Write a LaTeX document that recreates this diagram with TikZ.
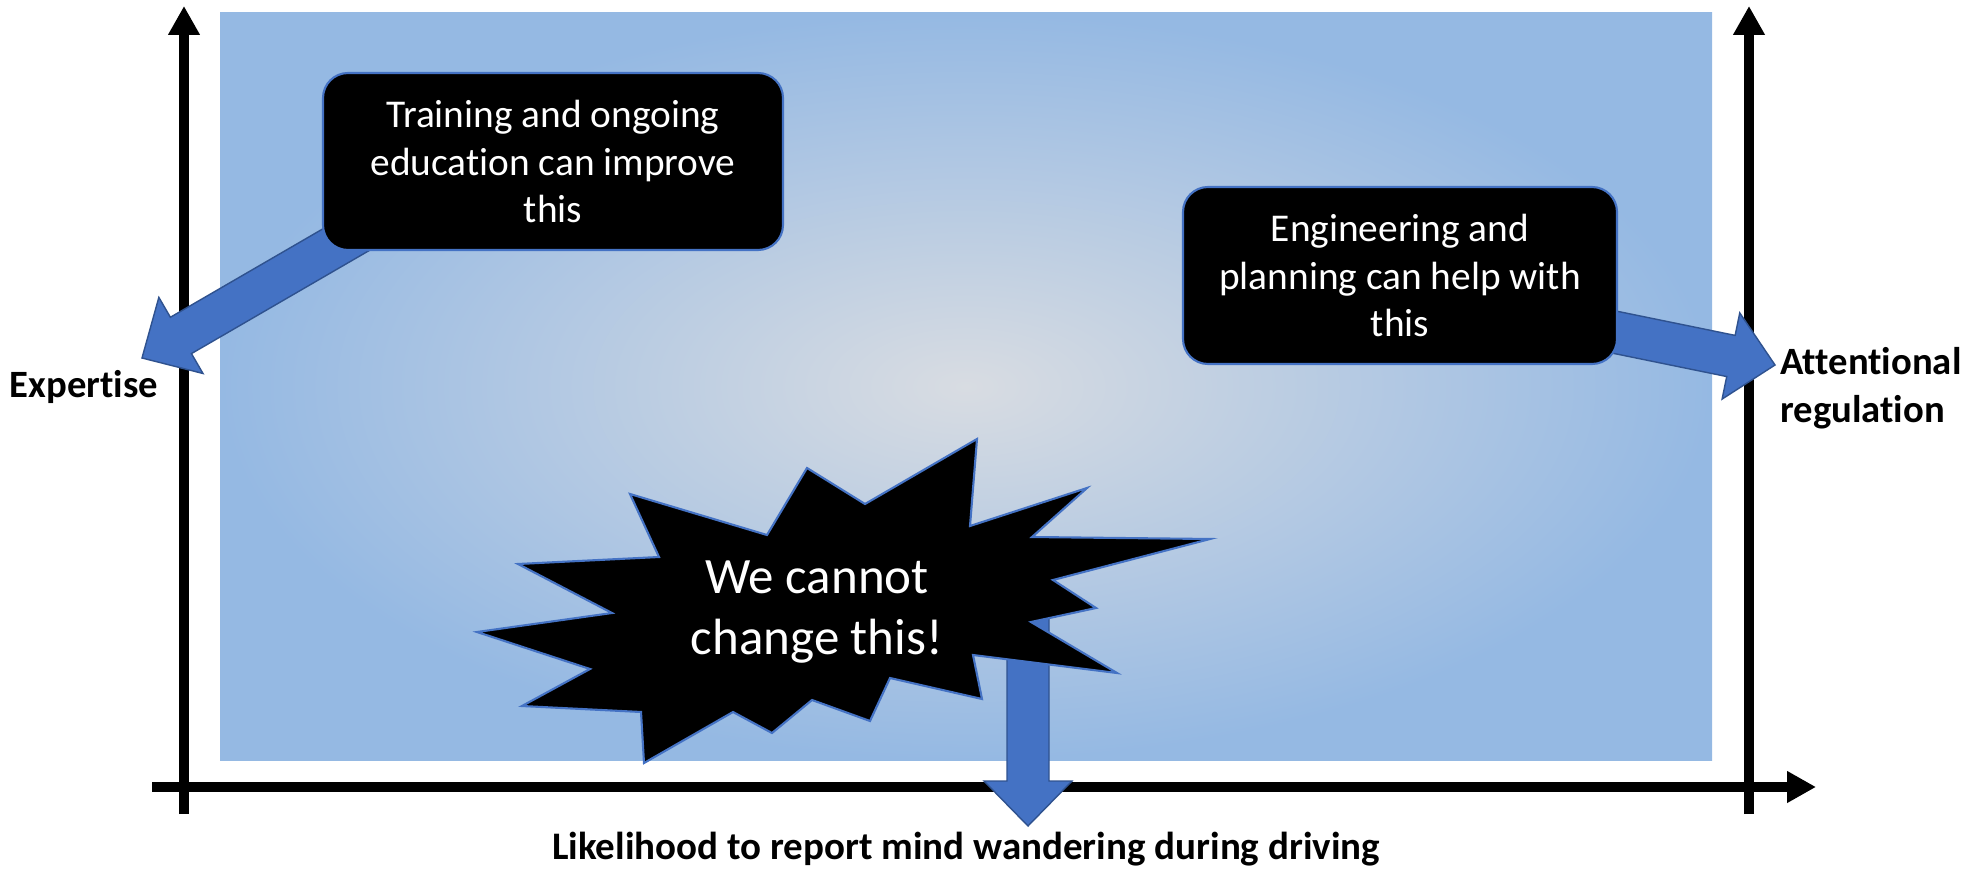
\documentclass[tikz,border=0pt]{standalone}
\usepackage{fontspec}
\setmainfont{Carlito}[Ligatures=NoCommon]
\usetikzlibrary{arrows.meta,calc}

\definecolor{edgeblue}{RGB}{149,185,227}
\definecolor{glowgrey}{RGB}{216,220,226}
\definecolor{arrowblue}{RGB}{68,114,196}
\definecolor{arrowline}{RGB}{47,82,143}

% fat block arrow from #1 to #2
\newcommand{\blockarrow}[2]{%
  \coordinate (hb) at ($(#2)!0.45cm!(#1)$);
  \draw[fatarrow] ($(#1)!0.21cm!90:(#2)$) -- ($(hb)!0.21cm!-90:(#1)$)
    -- ($(hb)!0.44cm!-90:(#1)$) -- (#2) -- ($(hb)!0.44cm!90:(#1)$)
    -- ($(hb)!0.21cm!90:(#1)$) -- ($(#1)!0.21cm!-90:(#2)$) -- cycle;}

\begin{document}
\begin{tikzpicture}[
    axis/.style={line width=1mm, -{Triangle[length=2.9mm,width=3mm]}},
    fatarrow/.style={fill=arrowblue, draw=arrowline, line width=0.4pt, line join=miter},
    notebox/.style={rectangle, rounded corners=0.25cm, fill=black, draw=arrowblue,
                    line width=0.6pt, text=white, align=center, minimum height=1.77cm,
                    font=\fontsize{11.2}{13.6}\selectfont},
    axislabel/.style={font=\bfseries\fontsize{11}{13.6}\selectfont, align=left},
    burst/.style={fill=black, draw=arrowblue, line width=0.6pt, line join=miter}]

  \useasboundingbox (0,0) rectangle (19.86,-8.69);

  % background
  \shade[inner color=glowgrey, outer color=edgeblue] (2.20,-0.13) rectangle (17.12,-7.60);

  % axes
  \coordinate (xstart) at (1.52,-7.87);
  \coordinate (xend) at (18.16,-7.87);
  \coordinate (leftbot) at (1.84,-8.14);
  \coordinate (lefttop) at (1.84,-0.06);
  \coordinate (rightbot) at (17.49,-8.14);
  \coordinate (righttop) at (17.49,-0.06);
  \draw[axis] (leftbot) -- (lefttop);
  \draw[axis] (rightbot) -- (righttop);
  \draw[axis] (xstart) -- (xend);

  \node[axislabel] (expertise) at (0.84,-3.87) {Expertise};
  \node[axislabel, anchor=west] (attention) at (17.68,-3.88) {Attentional\\regulation};
  \node[axislabel, font=\bfseries\fontsize{11.1}{13.6}\selectfont] (likelihood)
    at (9.66,-8.49) {Likelihood to report mind wandering during driving};

  % block arrows
  \coordinate (trainfrom) at (3.80,-2.20);
  \coordinate (experttip) at (1.42,-3.58);
  \coordinate (engfrom) at (15.60,-3.21);
  \coordinate (attenttip) at (17.75,-3.65);
  \coordinate (burstfrom) at (10.28,-6.00);
  \coordinate (likelytip) at (10.28,-8.26);
  \blockarrow{trainfrom}{experttip}
  \blockarrow{engfrom}{attenttip}
  \blockarrow{burstfrom}{likelytip}

  % callouts
  \node[notebox, minimum width=4.6cm] (training) at (5.53,-1.615)
    {Training and ongoing\\education can improve\\this};
  \node[notebox, minimum width=4.34cm] (engineering) at (14.00,-2.755)
    {Engineering and\\planning can help with\\this};

  % explosion
  \draw[burst] (9.77,-4.39) -- (9.70,-5.26) -- (10.87,-4.88) -- (10.32,-5.37)
    -- (12.10,-5.39) -- (10.53,-5.80) -- (10.96,-6.08) -- (10.31,-6.22)
    -- (11.17,-6.73) -- (9.73,-6.55) -- (9.82,-6.99) -- (8.90,-6.78)
    -- (8.70,-7.21) -- (8.12,-7.00) -- (7.72,-7.33) -- (7.33,-7.12)
    -- (6.44,-7.63) -- (6.41,-7.12) -- (5.22,-7.06) -- (5.90,-6.69)
    -- (4.77,-6.32) -- (6.12,-6.13) -- (5.18,-5.64) -- (6.59,-5.57)
    -- (6.30,-4.94) -- (7.67,-5.35) -- (8.07,-4.68) -- (8.65,-5.04) -- cycle;
  \node[text=white, align=center, font=\fontsize{14.5}{17.6}\selectfont] (cannot)
    at (8.17,-6.12) {We cannot\\change this!};
\end{tikzpicture}
\end{document}
